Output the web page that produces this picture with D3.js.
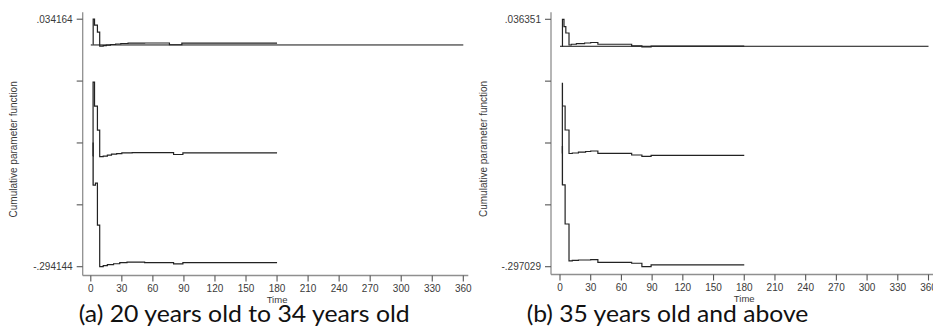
<!DOCTYPE html>
<html>
<head>
<meta charset="utf-8">
<script src="https://cdn.jsdelivr.net/npm/d3@7/dist/d3.min.js"></script>
<style>
  html, body { margin: 0; padding: 0; background: #fff; }
  svg { display: block; }
</style>
</head>
<body>
<svg id="chart" width="933" height="329"></svg>
<script>
// Time axis ticks shared by both panels
const timeTicks = [0, 30, 60, 90, 120, 150, 180, 210, 240, 270, 300, 330, 360];

// Panel (a): 20 to 34 years old — cumulative parameter function with bounds
const domainA = [-0.294144, 0.034164];
const yLabelsA = [".034164", "-.294144"];
const upperA = [
  [2.2, 0.0010], [2.3, 0.034164], [3.6, 0.0262], [6.4, 0.0169], [8.6, -0.0016],
  [12, -0.0010], [15, -0.0003], [19, 0.0006], [24, 0.0013], [29, 0.0019],
  [36, 0.0023], [52, 0.0026], [76, 0.0003], [88, 0.0023], [180, 0.0023]
];
const estimateA = [
  [2.1, -0.1475], [2.2, -0.0494], [3.6, -0.0812], [6.4, -0.1130], [8.6, -0.1482],
  [12, -0.1475], [16, -0.1462], [20, -0.1449], [25, -0.1442], [30, -0.1431],
  [40, -0.1429], [80, -0.1453], [89, -0.1431], [180, -0.1431]
];
const lowerA = [
  [2.1, -0.1860], [2.2, -0.1302], [2.3, -0.1860], [4.5, -0.1833], [6.4, -0.2390],
  [8.6, -0.294144], [12, -0.2928], [16, -0.2915], [22, -0.2902], [28, -0.2888],
  [35, -0.2882], [52, -0.2888], [80, -0.2905], [89, -0.2888], [180, -0.2888]
];

// Panel (b): 35 years old and above
const domainB = [-0.297029, 0.036351];
const yLabelsB = [".036351", "-.297029"];
const upperB = [
  [2.3, 0.0000], [2.4, 0.036351], [3.9, 0.0264], [5.7, 0.0179], [8.8, 0.0017],
  [11, 0.0027], [16, 0.0037], [24, 0.0044], [30, 0.0051], [37, 0.0027],
  [70, 0.0006], [80, -0.0007], [89, 0.0001], [180, 0.0001]
];
const estimateB = [
  [2.2, -0.1445], [2.3, -0.0499], [2.4, -0.0805], [5.0, -0.1128], [8.8, -0.1445],
  [12, -0.1438], [18, -0.1425], [25, -0.1418], [30, -0.1411], [37, -0.1442],
  [70, -0.1465], [80, -0.1483], [89, -0.1469], [180, -0.1469]
];
const lowerB = [
  [2.2, -0.1869], [2.3, -0.1353], [2.4, -0.1869], [5.0, -0.2395], [8.8, -0.2893],
  [12, -0.2886], [18, -0.2880], [30, -0.2876], [37, -0.2911],
  [70, -0.2924], [80, -0.297029], [89, -0.2947], [180, -0.2947]
];

const captions = ["(a) 20 years old to 34 years old", "(b) 35 years old and above"];
const yTitle = "Cumulative parameter function";
const xTitle = "Time";

const svg = d3.select("#chart");
const axisColor = "#8f8f8f";
const labelColor = "#3a3a3a";

function drawPanel(p) {
  const g = svg.append("g");
  const x = d3.scaleLinear().domain([0, 360]).range([p.x0, p.x1]);
  const y = d3.scaleLinear().domain(p.domain).range([p.yBottom, p.yTop]);

  // y axis line and ticks (five evenly spaced, ends labelled)
  const yTicks = d3.range(5).map(i => p.domain[1] - i * (p.domain[1] - p.domain[0]) / 4);
  g.append("line")
    .attr("x1", p.axisX).attr("x2", p.axisX)
    .attr("y1", p.yTop - 7).attr("y2", p.axisY)
    .attr("stroke", axisColor).attr("stroke-width", 1.3);
  g.selectAll(".ytick").data(yTicks).enter().append("line")
    .attr("x1", p.axisX - 6).attr("x2", p.axisX)
    .attr("y1", d => y(d)).attr("y2", d => y(d))
    .attr("stroke", "#555").attr("stroke-width", 1.1);
  g.selectAll(".ylab").data([yTicks[0], yTicks[4]]).enter().append("text")
    .attr("x", p.axisX - 10).attr("y", d => y(d) + 3.5)
    .attr("text-anchor", "end")
    .attr("font-family", "Liberation Sans, Arial, sans-serif")
    .attr("font-size", 10).attr("fill", labelColor)
    .text((d, i) => p.yLabels[i]);

  // x axis line and ticks
  g.append("line")
    .attr("x1", p.axisX).attr("x2", x(360) + 5)
    .attr("y1", p.axisY).attr("y2", p.axisY)
    .attr("stroke", axisColor).attr("stroke-width", 1.3);
  g.selectAll(".xtick").data(timeTicks).enter().append("line")
    .attr("x1", d => x(d)).attr("x2", d => x(d))
    .attr("y1", p.axisY).attr("y2", p.axisY + 6)
    .attr("stroke", "#555").attr("stroke-width", 1.1);
  g.selectAll(".xlab").data(timeTicks).enter().append("text")
    .attr("x", d => x(d)).attr("y", p.axisY + 16)
    .attr("text-anchor", "middle")
    .attr("font-family", "Liberation Sans, Arial, sans-serif")
    .attr("font-size", 10).attr("fill", labelColor)
    .text(d => d);
  g.append("text")
    .attr("x", (x(0) + x(360)) / 2).attr("y", p.axisY + 27)
    .attr("text-anchor", "middle")
    .attr("font-family", "Liberation Sans, Arial, sans-serif")
    .attr("font-size", 9.5).attr("fill", labelColor)
    .text(xTitle);

  // y title
  g.append("text")
    .attr("transform", `translate(${p.yTitleX},${(p.yTop + p.axisY) / 2 + 2}) rotate(-90)`)
    .attr("text-anchor", "middle")
    .attr("font-family", "Liberation Sans, Arial, sans-serif")
    .attr("font-size", 10).attr("fill", labelColor)
    .text(yTitle);

  // zero reference line across the whole time range
  g.append("line")
    .attr("x1", x(0)).attr("x2", x(360))
    .attr("y1", y(0)).attr("y2", y(0))
    .attr("stroke", "#111").attr("stroke-width", 1);

  const line = d3.line()
    .x(d => x(d[0])).y(d => y(d[1]))
    .curve(d3.curveStepAfter);
  [p.upper, p.estimate, p.lower].forEach(series => {
    g.append("path")
      .datum(series)
      .attr("d", line)
      .attr("fill", "none")
      .attr("stroke", "#222")
      .attr("stroke-width", 1.2);
  });

  // caption
  g.append("text")
    .attr("x", p.capX).attr("y", 321.5)
    .attr("font-family", "Lato, 'Open Sans', sans-serif")
    .attr("font-size", 23).attr("fill", "#111")
    .attr("textLength", p.capW).attr("lengthAdjust", "spacingAndGlyphs")
    .text(p.caption);
}

drawPanel({
  x0: 90.8, x1: 463.3, axisX: 82.7, axisY: 275.5, yTop: 19.2, yBottom: 266.7,
  yTitleX: 17, domain: domainA, yLabels: yLabelsA,
  upper: upperA, estimate: estimateA, lower: lowerA,
  caption: captions[0], capX: 78.7, capW: 331
});
drawPanel({
  x0: 560, x1: 928.5, axisX: 551, axisY: 274.5, yTop: 19.3, yBottom: 266.7,
  yTitleX: 487, domain: domainB, yLabels: yLabelsB,
  upper: upperB, estimate: estimateB, lower: lowerB,
  caption: captions[1], capX: 526.7, capW: 281.6
});
</script>
</body>
</html>
